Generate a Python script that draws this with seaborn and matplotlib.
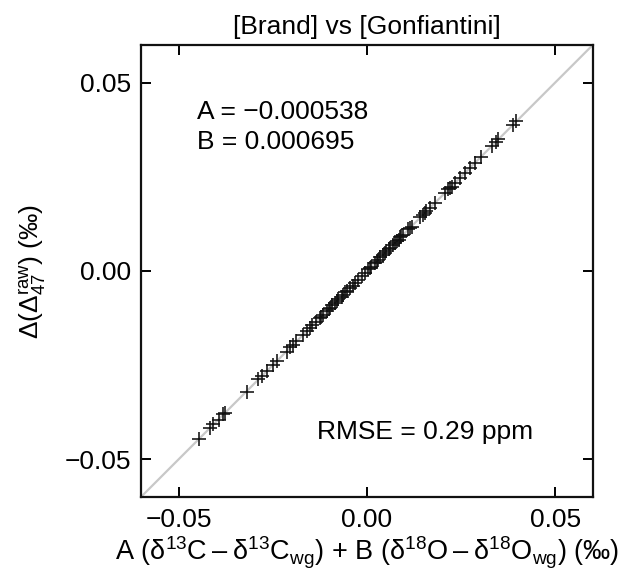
import numpy as np
import pandas as pd
from matplotlib import pyplot as plt
import seaborn as sns

# raw data (per mil)
x_vals = [-0.0447, -0.0416, -0.0408, -0.0394, -0.0381, -0.0377, -0.0319, -0.0288, -0.0279, -0.0266,
          -0.0248, -0.0240, -0.0213, -0.0204, -0.0195, -0.0187, -0.0169, -0.0160, -0.0151, -0.0145,
          -0.0134, -0.0125, -0.0116, -0.0107, -0.0098, -0.0092, -0.0085, -0.0076, -0.0067, -0.0058,
          -0.0052, -0.0045, -0.0038, -0.0032, -0.0023, -0.0014, -0.0005, 0.0004, 0.0012, 0.0021,
          0.0030, 0.0036, 0.0043, 0.0052, 0.0058, 0.0061, 0.0070, 0.0079, 0.0084, 0.0088,
          0.0096, 0.0110, 0.0119, 0.0141, 0.0149, 0.0158, 0.0167, 0.0180, 0.0207, 0.0216,
          0.0225, 0.0233, 0.0247, 0.0260, 0.0273, 0.0286, 0.0304, 0.0331, 0.0344, 0.0348,
          0.0388, 0.0397, -0.0122, -0.0101, -0.0080, -0.0063, 0.0008, 0.0026, 0.0047, 0.0074,
          0.0091, 0.0114, 0.0154, 0.0220]
y_vals = [-0.0446, -0.0417, -0.0407, -0.0395, -0.0380, -0.0378, -0.0320, -0.0287, -0.0280, -0.0265,
          -0.0249, -0.0239, -0.0214, -0.0203, -0.0196, -0.0186, -0.0170, -0.0159, -0.0152, -0.0144,
          -0.0135, -0.0124, -0.0117, -0.0106, -0.0099, -0.0091, -0.0086, -0.0075, -0.0068, -0.0057,
          -0.0053, -0.0044, -0.0039, -0.0031, -0.0024, -0.0013, -0.0006, 0.0005, 0.0011, 0.0022,
          0.0029, 0.0037, 0.0042, 0.0053, 0.0057, 0.0062, 0.0069, 0.0080, 0.0083, 0.0089,
          0.0095, 0.0111, 0.0118, 0.0142, 0.0148, 0.0159, 0.0166, 0.0181, 0.0206, 0.0217,
          0.0224, 0.0234, 0.0246, 0.0261, 0.0272, 0.0287, 0.0303, 0.0332, 0.0343, 0.0349,
          0.0387, 0.0398, -0.0121, -0.0102, -0.0079, -0.0064, 0.0009, 0.0025, 0.0048, 0.0073,
          0.0092, 0.0113, 0.0155, 0.0219]
lims = [-0.06, 0.06]
ticks = [-0.05, 0.00, 0.05]
tick_labels = ['\u22120.05', '0.00', '0.05']

df = pd.DataFrame({'x': x_vals, 'y': y_vals})

sns.set_style('ticks')
plt.rcParams['font.family'] = ['Liberation Sans', 'DejaVu Sans']
plt.rcParams['mathtext.fontset'] = 'custom'
plt.rcParams['mathtext.rm'] = 'Liberation Sans'
plt.rcParams['mathtext.default'] = 'regular'
plt.rcParams['text.color'] = 'black'
plt.rcParams['axes.labelcolor'] = 'black'
plt.rcParams['xtick.color'] = 'black'
plt.rcParams['ytick.color'] = 'black'

fs = 19

fig = plt.figure(figsize=(6.32, 5.73), dpi=100)
ax = fig.add_axes([0.223, 0.1326, 0.715, 0.789])

ax.plot(lims, lims, color='#c8c8c8', lw=1.6, zorder=1)
sns.scatterplot(data=df, x='x', y='y', marker='+', color='#111111', s=95, linewidth=1.15, ax=ax, zorder=2)

ax.set_xlim(lims)
ax.set_ylim(lims)
ax.set_xticks(ticks)
ax.set_yticks(ticks)
ax.set_xticklabels(tick_labels)
ax.set_yticklabels(tick_labels)
ax.tick_params(direction='in', length=7, width=1.4, top=True, right=True, labelsize=fs)
ax.tick_params(axis='x', pad=8)
ax.tick_params(axis='y', pad=7)
for s in ax.spines.values():
    s.set_linewidth(1.6)
    s.set_color('#111111')

ax.set_title('[Brand] vs [Gonfiantini]', fontsize=fs, pad=8)
ax.set_xlabel('A (δ$^{13}$C\u2009\u2013\u2009δ$^{13}$C$_{wg}$) + B (δ$^{18}$O\u2009\u2013\u2009δ$^{18}$O$_{wg}$) (‰)',
              fontsize=19.5, labelpad=2)
ax.set_ylabel('Δ(Δ$_{47}^{raw}$) (‰)', fontsize=fs, labelpad=11)

ax.text(0.124, 0.852, 'A = \u22120.000538', transform=ax.transAxes, fontsize=fs, ha='left', va='center')
ax.text(0.124, 0.785, 'B = 0.000695', transform=ax.transAxes, fontsize=fs, ha='left', va='center')
ax.text(0.628, 0.144, 'RMSE = 0.29 ppm', transform=ax.transAxes, fontsize=fs, ha='center', va='center')

fig.savefig('out.png', dpi=100)
